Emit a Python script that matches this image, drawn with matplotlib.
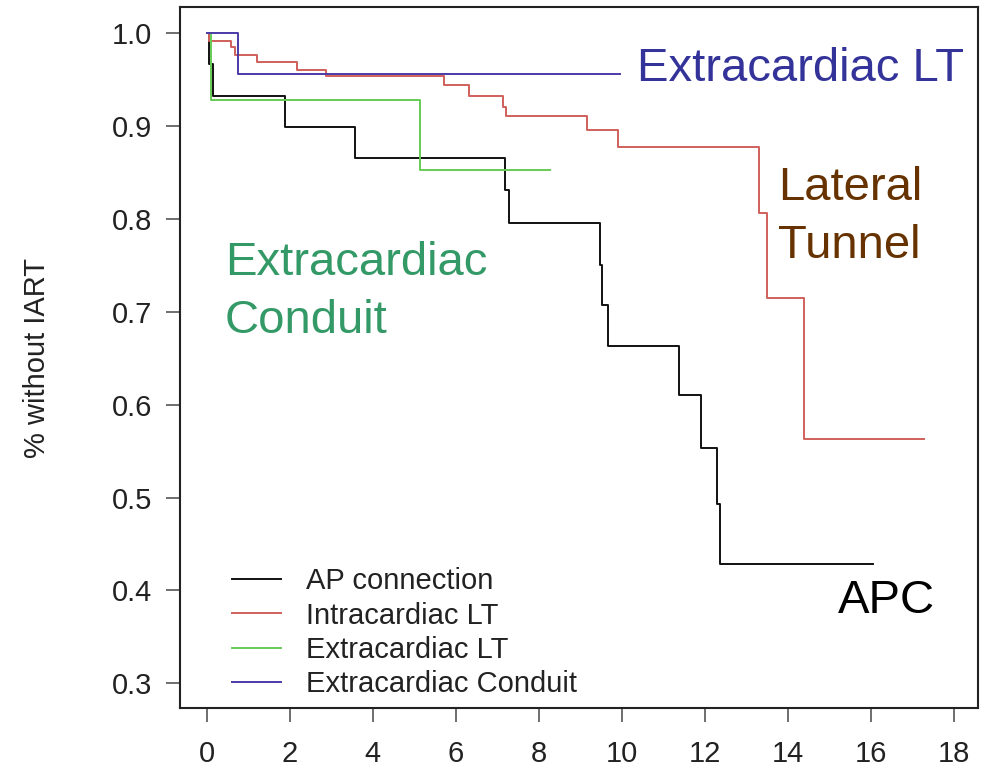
import matplotlib
matplotlib.use("Agg")
import matplotlib.pyplot as plt

plt.rcParams['font.family'] = ['Liberation Sans', 'DejaVu Sans']

# Kaplan-Meier step data (time in years, fraction without IART)
ap_t = [0, 0.05, 0.14, 1.88, 3.57, 7.19, 7.27, 9.47, 9.52, 9.67, 11.38, 11.9, 12.29, 12.36, 16.05]
ap_s = [1.0, 0.967, 0.933, 0.899, 0.866, 0.831, 0.796, 0.751, 0.707, 0.663, 0.611, 0.553, 0.493, 0.428, 0.428]

intra_t = [0, 0.05, 0.59, 0.67, 1.2, 2.18, 2.88, 5.71, 6.32, 7.14, 7.2, 9.16, 9.9, 13.29, 13.49, 14.38, 17.28]
intra_s = [1.0, 0.992, 0.985, 0.977, 0.969, 0.961, 0.954, 0.944, 0.933, 0.921, 0.911, 0.896, 0.878, 0.806, 0.715, 0.563, 0.563]

extra_lt_t = [0, 0.11, 5.13, 8.27]
extra_lt_s = [1.0, 0.928, 0.853, 0.853]

conduit_t = [0, 0.75, 9.95]
conduit_s = [1.0, 0.956, 0.956]

labels = ["AP connection", "Intracardiac LT", "Extracardiac LT", "Extracardiac Conduit"]
colors = ["#111111", "#d0605a", "#66cc55", "#4a3aa8"]

fig = plt.figure(figsize=(9.88, 7.7), dpi=100)
ax = fig.add_axes([0.182, 0.0805, 0.808, 0.910])

series = [(ap_t, ap_s), (intra_t, intra_s), (extra_lt_t, extra_lt_s), (conduit_t, conduit_s)]
for (t, s), lab, c in zip(series, labels, colors):
    ax.step(t, s, where='post', color=c, lw=1.4, label=lab)

ax.set_xlim(-0.65, 18.58)
ax.set_ylim(0.2734, 1.028)
ax.set_xticks(range(0, 19, 2))
ax.set_yticks([0.3, 0.4, 0.5, 0.6, 0.7, 0.8, 0.9, 1.0])
ax.set_yticklabels(["0.3", "0.4", "0.5", "0.6", "0.7", "0.8", "0.9", "1.0"])
ax.tick_params(axis='both', length=10, width=1.2, color='#555555', labelsize=21, labelcolor='#222222')
ax.tick_params(axis='x', pad=13)
ax.tick_params(axis='y', pad=10)
for sp in ax.spines.values():
    sp.set_linewidth(1.5)
    sp.set_color('#222222')

ax.set_ylabel("% without IART", fontsize=21, color='#222222', labelpad=44)

leg = ax.legend(loc='upper left', bbox_to_anchor=(0.065, 0.201), frameon=False,
                fontsize=21, handlelength=1.7, handletextpad=0.85,
                labelspacing=0.22, borderpad=0, borderaxespad=0)
for txt in leg.get_texts():
    txt.set_color('#222222')

# annotations placed next to curves
ax.text(10.36, 0.949, "Extracardiac LT", fontsize=34, color='#333399', va='baseline')
ax.text(13.76, 0.820, "Lateral", fontsize=34, color='#663300', va='baseline')
ax.text(13.76, 0.758, "Tunnel", fontsize=34, color='#663300', va='baseline')
ax.text(0.43, 0.740, "Extracardiac", fontsize=34, color='#339966', va='baseline')
ax.text(0.43, 0.677, "Conduit", fontsize=34, color='#339966', va='baseline')
ax.text(15.2, 0.376, "APC", fontsize=34, color='black', va='baseline')

fig.savefig("out.png", dpi=100)
